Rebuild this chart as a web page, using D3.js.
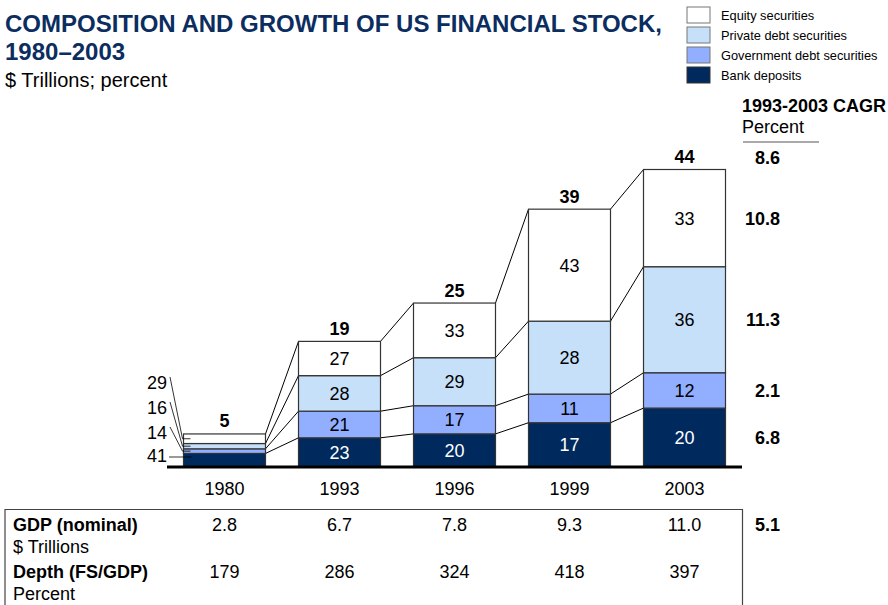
<!DOCTYPE html>
<html>
<head>
<meta charset="utf-8">
<script src="https://cdn.jsdelivr.net/npm/d3@7"></script>
<style>
  body { margin: 0; background: #fff; }
  svg { display: block; font-family: "Liberation Sans", Arial, sans-serif; }
</style>
</head>
<body>
<div id="chart"></div>
<script>
// Chart data
const years = ["1980", "1993", "1996", "1999", "2003"];
const totalLabels = [5, 19, 25, 39, 44];
// bar heights as drawn, $ trillions
const stockDrawn = [5.0, 19.0, 24.8, 39.0, 45.0];
const categories = ["Bank deposits", "Government debt securities", "Private debt securities", "Equity securities"];
const bankShare = [41, 23, 20, 17, 20];
const govtShare = [14, 21, 17, 11, 12];
const privShare = [16, 28, 29, 28, 36];
const equityShare = [29, 27, 33, 43, 33];
const cagrBySegment = ["6.8", "2.1", "11.3", "10.8"];
const cagrTotal = "8.6";
const gdpValues = ["2.8", "6.7", "7.8", "9.3", "11.0"];
const gdpCagr = "5.1";
const depthValues = ["179", "286", "324", "418", "397"];

const colors = {
  "Bank deposits": "#002a5e",
  "Government debt securities": "#92aefe",
  "Private debt securities": "#c6e0fa",
  "Equity securities": "#ffffff"
};
const titleColor = "#0b2d5f";
const FS = 18;

const width = 888, height = 605;
const baseY = 467;

const svg = d3.select("#chart").append("svg")
  .attr("width", width)
  .attr("height", height);

const x = d3.scaleBand()
  .domain(years)
  .range([167, 742])
  .paddingInner(0.287)
  .paddingOuter(0.1435);

const y = d3.scaleLinear()
  .domain([0, 45])
  .range([baseY, 169.5]);

// build stacked rows: one per year, share fractions scaled to drawn totals
const shares = [bankShare, govtShare, privShare, equityShare];
const rows = years.map((yr, i) => {
  const row = { year: yr, total: stockDrawn[i] };
  const sum = shares.reduce((s, a) => s + a[i], 0);
  categories.forEach((c, k) => { row[c] = shares[k][i] / sum * stockDrawn[i]; });
  return row;
});
const stack = d3.stack().keys(categories)(rows);

// connector lines between bars at every segment boundary
const connectors = svg.append("g")
  .attr("stroke", "#000")
  .attr("stroke-width", 1);
stack.forEach((layer) => {
  for (let i = 0; i < years.length - 1; i++) {
    connectors.append("line")
      .attr("x1", x(years[i]) + x.bandwidth())
      .attr("y1", y(layer[i][1]))
      .attr("x2", x(years[i + 1]))
      .attr("y2", y(layer[i + 1][1]));
  }
});

// bars
const layers = svg.append("g").selectAll("g")
  .data(stack)
  .join("g")
  .attr("fill", (d) => colors[d.key]);

layers.selectAll("rect")
  .data((d) => d)
  .join("rect")
  .attr("x", (d) => x(d.data.year))
  .attr("y", (d) => y(d[1]))
  .attr("width", x.bandwidth())
  .attr("height", (d) => y(d[0]) - y(d[1]))
  .attr("stroke", "#333")
  .attr("stroke-width", 1.2);

// segment labels (not for 1980, labelled at the side)
stack.forEach((layer, k) => {
  layer.forEach((d, i) => {
    if (i === 0) return;
    svg.append("text")
      .attr("x", x(d.data.year) + x.bandwidth() / 2)
      .attr("y", (y(d[0]) + y(d[1])) / 2)
      .attr("dy", "0.36em")
      .attr("text-anchor", "middle")
      .attr("font-size", FS)
      .attr("fill", k === 0 ? "#fff" : "#000")
      .text(shares[k][i]);
  });
});

// 1980 side labels with leader lines
const labelYs = [456, 433, 408, 383];
const firstBarX = x(years[0]);
stack.forEach((layer, k) => {
  const d = layer[0];
  const mid = (y(d[0]) + y(d[1])) / 2;
  const ly = labelYs[k];
  svg.append("text")
    .attr("x", 167)
    .attr("y", ly)
    .attr("dy", "0.36em")
    .attr("text-anchor", "end")
    .attr("font-size", FS)
    .text(shares[k][0]);
  const pts = k === 0
    ? [[169, ly + 1], [firstBarX + 8, ly + 1]]
    : [[170, ly - 6], [firstBarX - 1, mid], [firstBarX + 7, mid]];
  svg.append("path")
    .attr("d", d3.line()(pts))
    .attr("fill", "none")
    .attr("stroke", "#000")
    .attr("stroke-width", 0.8);
});

// totals above bars
svg.append("g").selectAll("text")
  .data(years)
  .join("text")
  .attr("x", (d) => x(d) + x.bandwidth() / 2)
  .attr("y", (d, i) => y(stockDrawn[i]) - 13)
  .attr("dy", "0.36em")
  .attr("text-anchor", "middle")
  .attr("font-size", FS)
  .attr("font-weight", "bold")
  .text((d, i) => totalLabels[i]);

// baseline axis with year labels
const axis = svg.append("g")
  .attr("transform", "translate(0," + baseY + ")")
  .call(d3.axisBottom(x).tickSize(0).tickPadding(15));
axis.select(".domain")
  .attr("d", "M167,0H742")
  .attr("stroke", "#000")
  .attr("stroke-width", 3);
axis.selectAll("text")
  .attr("font-family", "Liberation Sans, Arial, sans-serif")
  .attr("font-size", FS)
  .attr("fill", "#000");

// title block
svg.append("text")
  .attr("x", 5).attr("y", 32)
  .attr("font-size", 24).attr("font-weight", "bold")
  .attr("fill", titleColor)
  .text("COMPOSITION AND GROWTH OF US FINANCIAL STOCK,");
svg.append("text")
  .attr("x", 5).attr("y", 60)
  .attr("font-size", 24).attr("font-weight", "bold")
  .attr("fill", titleColor)
  .text("1980\u20132003");
svg.append("text")
  .attr("x", 5).attr("y", 87)
  .attr("font-size", 20)
  .text("$ Trillions; percent");

// legend
const legend = svg.append("g").attr("transform", "translate(687,7)");
const legendItems = categories.slice().reverse();
legendItems.forEach((c, i) => {
  legend.append("rect")
    .attr("x", 0).attr("y", i * 20)
    .attr("width", 23).attr("height", 16)
    .attr("fill", colors[c])
    .attr("stroke", c === "Bank deposits" ? "#333" : "#777")
    .attr("stroke-width", 1);
  legend.append("text")
    .attr("x", 34).attr("y", i * 20 + 8)
    .attr("dy", "0.36em")
    .attr("font-size", 12.8)
    .text(c);
});

// CAGR column
svg.append("text")
  .attr("x", 742).attr("y", 112)
  .attr("font-size", FS).attr("font-weight", "bold")
  .text("1993-2003 CAGR");
svg.append("text")
  .attr("x", 742).attr("y", 133)
  .attr("font-size", FS)
  .text("Percent");
svg.append("line")
  .attr("x1", 743).attr("x2", 819)
  .attr("y1", 142).attr("y2", 142)
  .attr("stroke", "#555").attr("stroke-width", 1.2);

const lastIdx = years.length - 1;
const cagrG = svg.append("g")
  .attr("font-size", FS).attr("font-weight", "bold")
  .attr("text-anchor", "end");
cagrG.append("text")
  .attr("x", 780).attr("y", y(stockDrawn[lastIdx]) - 12)
  .attr("dy", "0.36em")
  .text(cagrTotal);
stack.forEach((layer, k) => {
  const d = layer[lastIdx];
  cagrG.append("text")
    .attr("x", 780)
    .attr("y", (y(d[0]) + y(d[1])) / 2)
    .attr("dy", "0.36em")
    .text(cagrBySegment[k]);
});

// table below the chart
svg.append("path")
  .attr("d", "M5,605V509.5H742.5V605")
  .attr("fill", "none")
  .attr("stroke", "#444")
  .attr("stroke-width", 1.2);

const tableRows = [
  { label: "GDP (nominal)", unit: "$ Trillions", values: gdpValues, y: 525 },
  { label: "Depth (FS/GDP)", unit: "Percent", values: depthValues, y: 572 }
];
tableRows.forEach((r) => {
  svg.append("text")
    .attr("x", 13).attr("y", r.y).attr("dy", "0.36em")
    .attr("font-size", FS).attr("font-weight", "bold")
    .text(r.label);
  svg.append("text")
    .attr("x", 13).attr("y", r.y + 22).attr("dy", "0.36em")
    .attr("font-size", FS)
    .text(r.unit);
  svg.append("g").selectAll("text")
    .data(r.values)
    .join("text")
    .attr("x", (d, i) => x(years[i]) + x.bandwidth() / 2)
    .attr("y", r.y).attr("dy", "0.36em")
    .attr("text-anchor", "middle")
    .attr("font-size", FS)
    .text((d) => d);
});
svg.append("text")
  .attr("x", 780).attr("y", 525).attr("dy", "0.36em")
  .attr("text-anchor", "end")
  .attr("font-size", FS).attr("font-weight", "bold")
  .text(gdpCagr);
</script>
</body>
</html>
